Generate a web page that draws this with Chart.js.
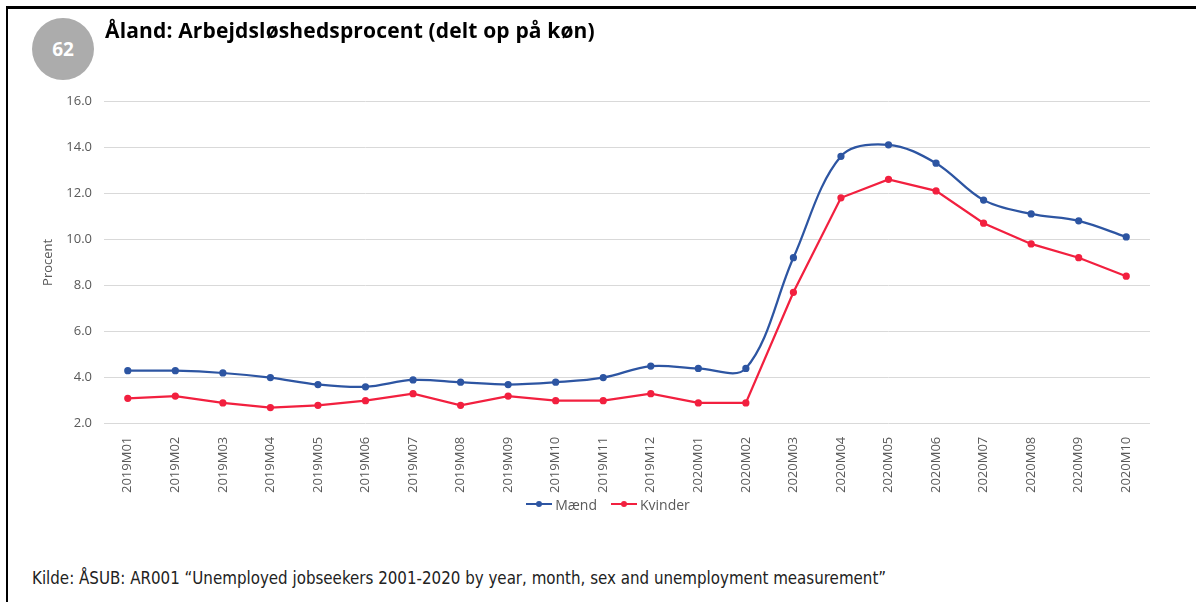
<!DOCTYPE html>
<html>
<head>
<meta charset="utf-8">
<script src="https://cdn.jsdelivr.net/npm/chart.js@4"></script>
<style>
    body { margin: 0; background: #fff; }
    #page { position: relative; width: 1196px; height: 602px; overflow: hidden; background: #fff; }
    #frame { position: absolute; left: 6px; top: 6px; right: -10px; bottom: -10px; border-left: 2px solid #000; border-top: 3px solid #000; }
    #badge { position: absolute; left: 32px; top: 18px; width: 62px; height: 62px; border-radius: 50%; background: #ACACAC;
             color: #fff; font: bold 19px "Open Sans", sans-serif; text-align: center; line-height: 62px; }
    #title { position: absolute; left: 105px; top: 16px; font: bold 21px "Open Sans", sans-serif; letter-spacing: 0.15px; color: #000; white-space: nowrap; }
    #chartBox { position: absolute; left: 0; top: 0; width: 1196px; height: 498px; }
    #legend { position: absolute; top: 490px; left: 10px; width: 1196px; text-align: center; font: 14px "Open Sans", sans-serif; color: #595959; }
    .item { display: inline-flex; align-items: center; margin: 0 7px; }
    .swatch { position: relative; width: 26px; height: 2px; margin-right: 3px; }
    .swatch i { position: absolute; left: 10px; top: -2px; width: 6px; height: 6px; border-radius: 50%; }
    #source { position: absolute; left: 32px; top: 568px; font: 17px "Liberation Sans Narrow", "DejaVu Sans Condensed", sans-serif;
              color: #222; white-space: nowrap; transform-origin: left top; }
</style>
</head>
<body>
<div id="page">
    <div id="frame"></div>
    <div id="chartBox"><canvas id="myChart" width="1196" height="498"></canvas></div>
    <div id="badge">62</div>
    <div id="title">Åland: Arbejdsløshedsprocent (delt op på køn)</div>
    <div id="legend"></div>
    <div id="source">Kilde: ÅSUB: AR001 “Unemployed jobseekers 2001-2020 by year, month, sex and unemployment measurement”</div>
</div>
<script>
const months = ['2019M01', '2019M02', '2019M03', '2019M04', '2019M05', '2019M06', '2019M07', '2019M08', '2019M09', '2019M10', '2019M11', '2019M12',
    '2020M01', '2020M02', '2020M03', '2020M04', '2020M05', '2020M06', '2020M07', '2020M08', '2020M09', '2020M10'];
const maend = [4.3, 4.3, 4.2, 4.0, 3.7, 3.6, 3.9, 3.8, 3.7, 3.8, 4.0, 4.5,
    4.4, 4.4, 9.2, 13.6, 14.1, 13.3, 11.7, 11.1, 10.8, 10.1];
const kvinder = [3.1, 3.2, 2.9, 2.7, 2.8, 3.0, 3.3, 2.8, 3.2, 3.0, 3.0, 3.3,
    2.9, 2.9, 7.7, 11.8, 12.6, 12.1, 10.7, 9.8, 9.2, 8.4];
const seriesNames = ['Mænd', 'Kvinder'];
const seriesColors = ['#2D55A2', '#F2203F'];

const tickFont = { family: '"Open Sans", sans-serif', size: 13 };
const grey = '#595959';

const ctx = document.getElementById('myChart').getContext('2d');

let myChart = new Chart(ctx, {
    type: 'line',
    data: {
        labels: months,
        datasets: [{
            label: seriesNames[0],
            data: maend,
            borderColor: seriesColors[0],
            backgroundColor: seriesColors[0],
            borderWidth: 2.25,
            pointRadius: 2.5,
            // smoothed like the original, with a little overshoot
            tension: 0.35
        }, {
            label: seriesNames[1],
            data: kvinder,
            borderColor: seriesColors[1],
            backgroundColor: seriesColors[1],
            borderWidth: 2.25,
            pointRadius: 2.5,
            tension: 0
        }]
    },
    options: {
        responsive: false,
        animation: false,
        layout: { padding: { top: 101, right: 46, bottom: 0, left: 0 } },
        plugins: {
            legend: { display: false },
            tooltip: { enabled: false }
        },
        scales: {
            x: {
                offset: true,
                grid: { display: false },
                border: { display: false },
                ticks: { color: grey, font: tickFont, minRotation: 90, maxRotation: 90, autoSkip: false, padding: 5 }
            },
            y: {
                min: 2, max: 16,
                afterFit: (scale) => { scale.width = 104; },
                grid: { color: '#D9D9D9', drawTicks: false },
                border: { display: false },
                title: { display: true, text: 'Procent', color: grey, font: tickFont, padding: { top: 40, bottom: 0 } },
                ticks: {
                    stepSize: 2, color: grey, font: tickFont, padding: 12,
                    callback: (v) => v.toFixed(1)
                }
            }
        }
    }
});

// legend drawn as html so the line + dot sample looks like the original
const legend = document.getElementById('legend');
seriesNames.forEach((name, i) => {
    const item = document.createElement('span');
    item.className = 'item';
    item.innerHTML = '<span class="swatch" style="background:' + seriesColors[i] + '"><i style="background:' + seriesColors[i] + '"></i></span>' + name;
    legend.appendChild(item);
});

// squeeze the source line to the width it has in the original
const src = document.getElementById('source');
src.style.transform = 'scaleX(' + (854 / src.offsetWidth) + ')';
</script>
</body>
</html>
